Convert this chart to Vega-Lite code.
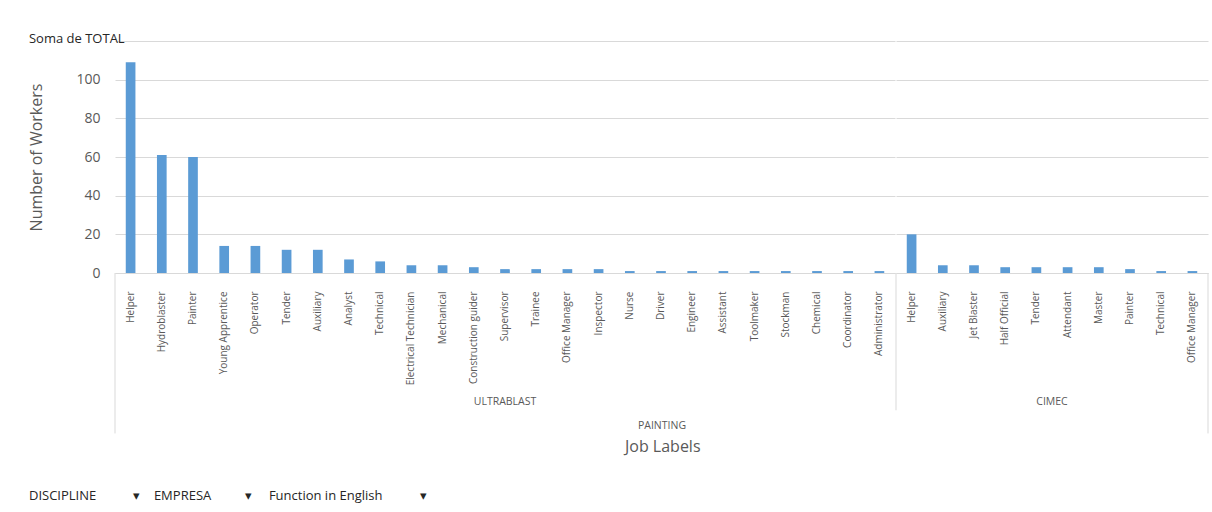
{
  "$schema": "https://vega.github.io/schema/vega-lite/v6.json",
  "background": "white",
  "padding": {"left": 28, "top": 33, "right": 6, "bottom": 4},
  "title": {
    "text": "Soma de TOTAL",
    "anchor": "start",
    "fontSize": 13,
    "fontWeight": "normal",
    "color": "#262626",
    "offset": -12
  },
  "config": {
    "font": "Open Sans",
    "view": {"stroke": null},
    "axis": {"labelColor": "#595959", "titleColor": "#595959", "titleFontWeight": "normal"}
  },
  "vconcat": [
    {
      "title": {
        "text": "DISCIPLINE\u00a0\u00a0\u00a0\u00a0\u00a0\u00a0\u00a0\u00a0\u00a0\u00a0\u00a0▾\u00a0\u00a0\u00a0\u00a0EMPRESA\u00a0\u00a0\u00a0\u00a0\u00a0\u00a0\u00a0\u00a0\u00a0\u00a0▾\u00a0\u00a0\u00a0\u00a0\u00a0Function in English\u00a0\u00a0\u00a0\u00a0\u00a0\u00a0\u00a0\u00a0\u00a0\u00a0\u00a0▾",
        "orient": "bottom",
        "anchor": "start",
        "fontSize": 13,
        "fontWeight": "normal",
        "color": "#262626",
        "offset": 35
      },
      "vconcat": [
        {
          "title": {
            "text": "Job Labels",
            "orient": "bottom",
            "anchor": "middle",
            "frame": "bounds",
            "dx": 44,
            "fontSize": 16,
            "fontWeight": "normal",
            "color": "#595959",
            "offset": 5
          },
          "data": {
            "values": [
              {"company": "ULTRABLAST", "job": "Helper", "workers": 109},
              {"company": "ULTRABLAST", "job": "Hydroblaster", "workers": 61},
              {"company": "ULTRABLAST", "job": "Painter", "workers": 60},
              {"company": "ULTRABLAST", "job": "Young Apprentice", "workers": 14},
              {"company": "ULTRABLAST", "job": "Operator", "workers": 14},
              {"company": "ULTRABLAST", "job": "Tender", "workers": 12},
              {"company": "ULTRABLAST", "job": "Auxiliary", "workers": 12},
              {"company": "ULTRABLAST", "job": "Analyst", "workers": 7},
              {"company": "ULTRABLAST", "job": "Technical", "workers": 6},
              {"company": "ULTRABLAST", "job": "Electrical Technician", "workers": 4},
              {"company": "ULTRABLAST", "job": "Mechanical", "workers": 4},
              {"company": "ULTRABLAST", "job": "Construction guider", "workers": 3},
              {"company": "ULTRABLAST", "job": "Supervisor", "workers": 2},
              {"company": "ULTRABLAST", "job": "Trainee", "workers": 2},
              {"company": "ULTRABLAST", "job": "Office Manager", "workers": 2},
              {"company": "ULTRABLAST", "job": "Inspector", "workers": 2},
              {"company": "ULTRABLAST", "job": "Nurse", "workers": 1},
              {"company": "ULTRABLAST", "job": "Driver", "workers": 1},
              {"company": "ULTRABLAST", "job": "Engineer", "workers": 1},
              {"company": "ULTRABLAST", "job": "Assistant", "workers": 1},
              {"company": "ULTRABLAST", "job": "Toolmaker", "workers": 1},
              {"company": "ULTRABLAST", "job": "Stockman", "workers": 1},
              {"company": "ULTRABLAST", "job": "Chemical", "workers": 1},
              {"company": "ULTRABLAST", "job": "Coordinator", "workers": 1},
              {"company": "ULTRABLAST", "job": "Administrator", "workers": 1},
              {"company": "CIMEC", "job": "Helper", "workers": 20},
              {"company": "CIMEC", "job": "Auxiliary", "workers": 4},
              {"company": "CIMEC", "job": "Jet Blaster", "workers": 4},
              {"company": "CIMEC", "job": "Half Official", "workers": 3},
              {"company": "CIMEC", "job": "Tender", "workers": 3},
              {"company": "CIMEC", "job": "Attendant", "workers": 3},
              {"company": "CIMEC", "job": "Master", "workers": 3},
              {"company": "CIMEC", "job": "Painter", "workers": 2},
              {"company": "CIMEC", "job": "Technical", "workers": 1},
              {"company": "CIMEC", "job": "Office Manager", "workers": 1}
            ]
          },
          "facet": {
            "column": {
              "field": "company",
              "type": "nominal",
              "sort": ["ULTRABLAST", "CIMEC"],
              "header": {
                "labelOrient": "bottom",
                "labelFontSize": 10.5,
                "labelColor": "#595959",
                "labelPadding": -37,
                "title": "PAINTING",
                "titleOrient": "bottom",
                "titleFontSize": 10.5,
                "titleFontWeight": "normal",
                "titleColor": "#595959",
                "titlePadding": -23
              }
            }
          },
          "spacing": 0,
          "resolve": {"scale": {"x": "independent"}},
          "spec": {
            "width": {"step": 31.2},
            "height": 232,
            "encoding": {
              "x": {
                "field": "job",
                "type": "nominal",
                "sort": null,
                "scale": {"paddingInner": 0, "paddingOuter": 0},
                "axis": {
                  "title": null,
                  "labelAngle": -90,
                  "labelFontSize": 10,
                  "labelPadding": 18,
                  "ticks": false,
                  "domainColor": "#D9D9D9"
                }
              }
            },
            "layer": [
              {
                "mark": {"type": "bar", "color": "#5B9BD5", "width": {"band": 0.31}},
                "encoding": {
                  "y": {
                    "field": "workers",
                    "type": "quantitative",
                    "scale": {"domain": [0, 120], "nice": false},
                    "axis": {
                      "title": "Number of Workers",
                      "titleFontSize": 16,
                      "titlePadding": 31,
                      "values": [0, 20, 40, 60, 80, 100, 120],
                      "labelExpr": "datum.value == 120 ? '' : datum.label",
                      "labelFontSize": 14,
                      "labelPadding": 14,
                      "labelOverlap": false,
                      "ticks": false,
                      "domain": false,
                      "gridColor": "#D9D9D9"
                    }
                  }
                }
              },
              {
                "transform": [{"filter": "datum.company == 'ULTRABLAST' && datum.job == 'Helper'"}],
                "mark": {"type": "rule", "color": "#D9D9D9"},
                "encoding": {
                  "x": {"field": "job", "type": "nominal", "sort": null, "bandPosition": 0},
                  "y": {"datum": 0, "axis": {"values": [0, 20, 40, 60, 80, 100, 120]}},
                  "y2": {"datum": -83}
                }
              },
              {
                "transform": [{"filter": "datum.company == 'CIMEC' && datum.job == 'Helper'"}],
                "mark": {"type": "rule", "color": "#D9D9D9"},
                "encoding": {
                  "x": {"field": "job", "type": "nominal", "sort": null, "bandPosition": 0},
                  "y": {"datum": 0, "axis": {"values": [0, 20, 40, 60, 80, 100, 120]}},
                  "y2": {"datum": -71}
                }
              },
              {
                "transform": [{"filter": "datum.company == 'CIMEC' && datum.job == 'Office Manager'"}],
                "mark": {"type": "rule", "color": "#D9D9D9"},
                "encoding": {
                  "x": {"field": "job", "type": "nominal", "sort": null, "bandPosition": 1},
                  "y": {"datum": 0, "axis": {"values": [0, 20, 40, 60, 80, 100, 120]}},
                  "y2": {"datum": -83}
                }
              }
            ]
          }
        }
      ]
    }
  ]
}
